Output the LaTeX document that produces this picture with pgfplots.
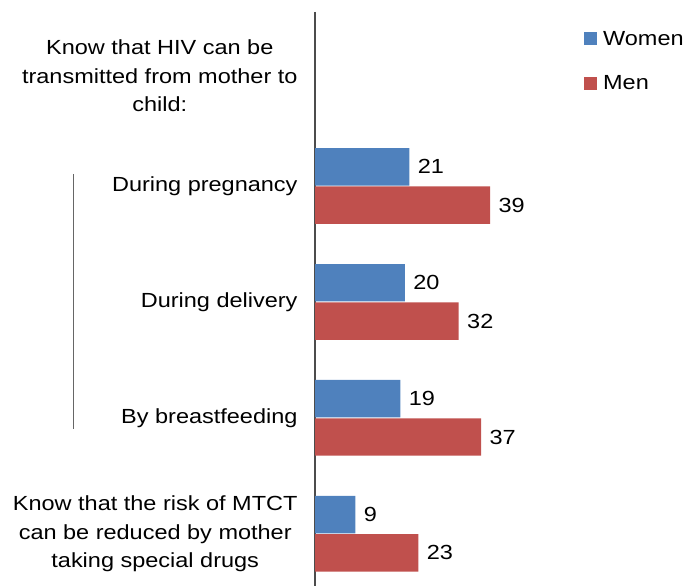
\documentclass[border=0pt]{standalone}
\usepackage{fontspec}
\setmainfont{Liberation Sans}[FakeStretch=1.15]
\usepackage{pgfplots}
\pgfplotsset{compat=1.18}
\definecolor{cwomen}{HTML}{4F81BD}
\definecolor{cmen}{HTML}{C0504D}
\newcommand\lbl{\fontsize{20.5}{28.5}\selectfont}
\begin{document}
\begin{tikzpicture}[x=1bp,y=1bp,font=\lbl]
\useasboundingbox (0,0) rectangle (686,586);
\begin{axis}[
  at={(315bp,0bp)}, anchor=south west,
  scale only axis, width=224.5bp, height=574bp,
  xmin=0, xmax=50,
  ymin=-0.5, ymax=4.45, y dir=reverse,
  axis x line=none,
  axis y line*=left,
  y axis line style={-, line width=1.2bp, color=black!70},
  ytick={1,2,3,4}, major tick length=0pt,
  yticklabels={{During pregnancy}, {During delivery}, {By breastfeeding}, {Know that the risk of MTCT\\can be reduced by mother\\taking special drugs}},
  yticklabel style={align=center, font=\lbl, xshift=-14bp},
  extra y ticks={0},
  extra y tick labels={{Know that HIV can be\\transmitted from mother to\\child:}},
  extra y tick style={yticklabel style={yshift=-6bp}},
  /pgf/number format/assume math mode=true,
  xbar, bar width=0.323,
  nodes near coords,
  nodes near coords style={font=\lbl, anchor=west, xshift=5bp},
  legend style={at={(1.198,1)}, anchor=north west, yshift=-17bp, draw=none, fill=none,
    font=\lbl, inner sep=0pt, row sep=25bp, legend cell align=left,
    nodes={inner xsep=6bp}},
  legend image code/.code={\fill[#1] (0bp,-6.5bp) rectangle (13bp,6.5bp);},
]
\addplot[fill=cwomen, draw=none, bar shift=-0.165] coordinates {(21,1) (20,2) (19,3) (9,4)};
\addplot[fill=cmen, draw=none, bar shift=0.165] coordinates {(39,1) (32,2) (37,3) (23,4)};
\legend{Women, Men}
\end{axis}
\draw[line width=1bp, black!60] (73,412) -- (73,157);
\end{tikzpicture}
\end{document}
